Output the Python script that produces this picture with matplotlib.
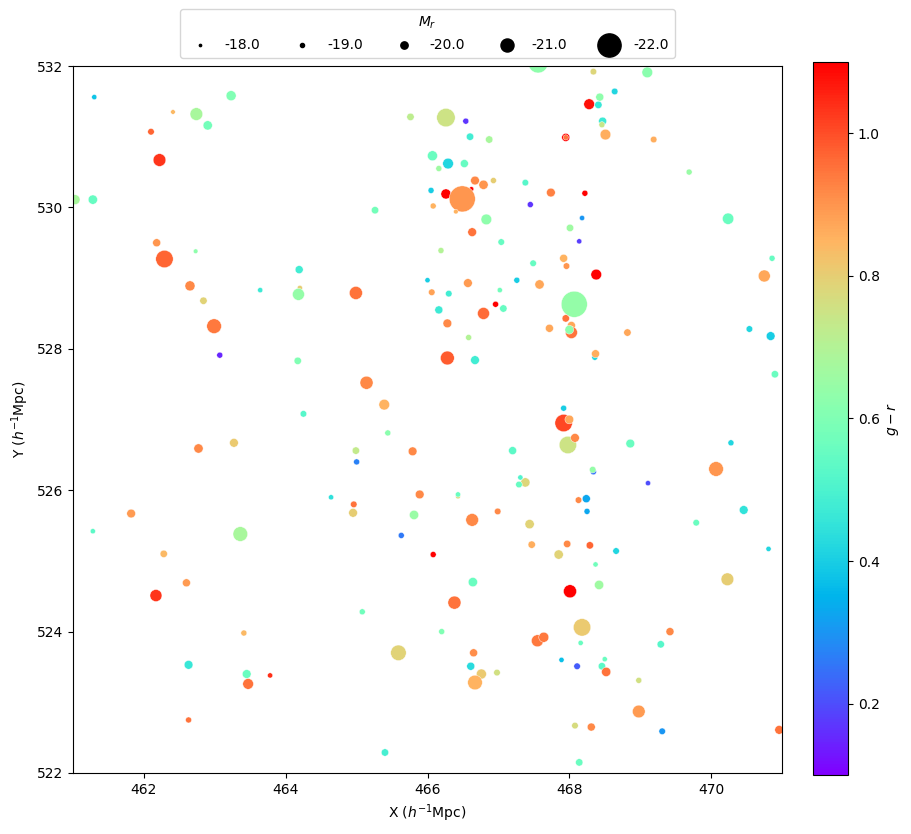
import matplotlib
matplotlib.use('Agg')
import matplotlib.pyplot as plt
import numpy as np

# galaxy positions (h^-1 Mpc), colour g-r and absolute magnitude M_r
x_pos = [
    461.30, 462.41, 462.74, 463.23, 462.90, 462.10, 462.22, 461.03, 461.28, 462.18, 462.29, 462.73, 462.65, 462.84, 463.64, 464.19, 464.20, 464.18,
    467.56, 465.76, 466.26, 466.54, 466.60, 466.87, 466.07, 466.29, 466.52, 466.16, 466.67, 466.79, 466.93, 466.05, 466.26, 466.62, 466.49, 466.08, 466.40, 466.83, 465.26, 467.38, 467.45, 467.74, 466.63, 467.04, 466.19, 467.49, 466.00, 466.57, 467.26, 467.58, 464.99, 466.06, 466.30, 467.02, 466.96,
    468.34, 469.10, 468.64, 468.43, 468.28, 468.41, 468.47, 468.46, 468.51, 467.95, 467.95, 469.19, 469.69, 468.22, 468.18, 468.01, 468.14, 470.24, 470.86, 467.92, 467.96, 468.38, 470.75, 468.07,
    462.99, 463.07, 464.17, 464.25, 463.27, 462.77, 461.82, 461.28, 463.36,
    466.16, 466.79, 467.07, 466.28, 467.72, 466.58, 466.28, 466.67, 465.14, 465.39, 465.44, 464.99, 465.00, 465.79, 467.20, 467.38, 467.31, 467.29, 464.64, 464.96, 464.95, 465.89, 466.43, 466.43, 465.81, 466.63, 466.99, 467.44, 465.63,
    467.95, 468.03, 468.03, 468.00, 468.82, 468.36, 468.37, 470.54, 470.84, 470.90, 467.92, 467.92, 468.00, 467.98, 468.08, 468.86, 470.28, 470.07, 469.11, 468.34, 468.33, 468.24, 468.13, 468.25, 470.46, 469.79,
    462.28, 462.60, 462.17, 463.41, 462.63, 463.45, 463.47, 463.78, 462.63,
    466.08, 467.47, 466.64, 466.38, 465.08, 466.20, 465.59, 466.65, 467.55, 467.64, 466.61, 466.76, 466.67, 466.98, 465.40,
    467.97, 467.85, 468.29, 468.66, 470.81, 468.37, 468.42, 468.01, 470.23, 468.18, 469.42, 469.29, 468.16, 467.89, 468.11, 468.50, 468.46, 468.52, 468.98, 468.98, 468.08, 468.31, 469.31, 470.96, 468.14,
]
y_pos = [
    531.56, 531.35, 531.32, 531.58, 531.16, 531.07, 530.67, 530.11, 530.11, 529.50, 529.27, 529.38, 528.89, 528.68, 528.83, 529.12, 528.86, 528.77,
    532.04, 531.28, 531.27, 531.22, 531.00, 530.96, 530.73, 530.62, 530.62, 530.55, 530.38, 530.32, 530.38, 530.24, 530.19, 530.26, 530.12, 530.02, 529.94, 529.83, 529.96, 530.35, 530.04, 530.21, 529.65, 529.51, 529.39, 529.21, 528.97, 528.93, 528.97, 528.91, 528.79, 528.80, 528.78, 528.83, 528.63,
    531.92, 531.91, 531.64, 531.56, 531.46, 531.45, 531.22, 531.17, 531.03, 530.99, 530.99, 530.96, 530.50, 530.20, 529.85, 529.71, 529.52, 529.84, 529.28, 529.28, 529.17, 529.05, 529.03, 528.63,
    528.32, 527.91, 527.83, 527.08, 526.67, 526.59, 525.67, 525.42, 525.38,
    528.55, 528.50, 528.57, 528.36, 528.29, 528.16, 527.87, 527.84, 527.52, 527.21, 526.81, 526.56, 526.40, 526.55, 526.56, 526.11, 526.18, 526.08, 525.90, 525.80, 525.68, 525.94, 525.91, 525.94, 525.65, 525.58, 525.70, 525.52, 525.36,
    528.43, 528.33, 528.23, 528.27, 528.23, 527.88, 527.93, 528.28, 528.18, 527.64, 527.16, 526.95, 527.00, 526.64, 526.74, 526.66, 526.67, 526.30, 526.10, 526.26, 526.29, 525.88, 525.86, 525.70, 525.72, 525.54,
    525.10, 524.69, 524.51, 523.98, 523.53, 523.40, 523.26, 523.38, 522.75,
    525.09, 525.23, 524.70, 524.41, 524.28, 524.00, 523.70, 523.70, 523.87, 523.92, 523.51, 523.40, 523.28, 523.42, 522.29,
    525.24, 525.09, 525.22, 525.14, 525.17, 524.95, 524.66, 524.57, 524.74, 524.06, 524.00, 523.82, 523.84, 523.60, 523.51, 523.61, 523.51, 523.43, 523.31, 522.87, 522.67, 522.65, 522.59, 522.61, 522.15,
]
g_r = [
    0.38, 0.84, 0.68, 0.60, 0.58, 0.97, 1.03, 0.68, 0.55, 0.90, 0.97, 0.63, 0.92, 0.79, 0.47, 0.48, 0.80, 0.64,
    0.63, 0.72, 0.75, 0.17, 0.48, 0.68, 0.56, 0.42, 0.55, 0.66, 0.92, 0.90, 0.80, 0.40, 1.10, 1.10, 0.90, 0.85, 0.85, 0.63, 0.58, 0.52, 0.17, 0.93, 0.95, 0.55, 0.70, 0.55, 0.40, 0.89, 0.40, 0.87, 0.95, 0.88, 0.48, 0.57, 1.10,
    0.78, 0.62, 0.42, 0.63, 1.08, 0.46, 0.47, 0.74, 0.86, 1.10, 0.95, 0.86, 0.65, 1.10, 0.30, 0.66, 0.18, 0.56, 0.55, 0.85, 0.90, 1.10, 0.87, 0.64,
    0.94, 0.15, 0.60, 0.52, 0.81, 0.92, 0.89, 0.53, 0.68,
    0.47, 0.96, 0.55, 0.92, 0.87, 0.70, 0.98, 0.48, 0.92, 0.85, 0.62, 0.73, 0.27, 0.92, 0.53, 0.78, 0.51, 0.55, 0.44, 0.95, 0.80, 0.92, 0.77, 0.56, 0.65, 0.92, 0.92, 0.79, 0.26,
    0.95, 0.87, 0.95, 0.63, 0.87, 0.42, 0.86, 0.42, 0.40, 0.56, 0.40, 1.01, 0.87, 0.75, 0.92, 0.56, 0.42, 0.90, 0.20, 0.25, 0.64, 0.33, 0.92, 0.33, 0.45, 0.56,
    0.84, 0.89, 1.03, 0.84, 0.46, 0.56, 0.95, 1.04, 0.95,
    1.10, 0.86, 0.56, 0.95, 0.57, 0.60, 0.79, 0.91, 0.94, 0.94, 0.43, 0.81, 0.85, 0.76, 0.49,
    0.92, 0.79, 0.97, 0.42, 0.42, 0.57, 0.66, 1.10, 0.80, 0.81, 0.92, 0.52, 0.56, 0.37, 0.22, 0.56, 0.53, 0.95, 0.76, 0.89, 0.77, 0.92, 0.30, 0.95, 0.56,
]
m_r = [
    -19.4, -19.2, -20.95, -20.54, -20.4, -19.8, -20.95, -20.5, -20.4, -20.15, -21.5, -19.2, -20.54, -20.0, -19.4, -20.15, -19.4, -20.85,
    -21.7, -20.0, -21.6, -19.65, -20.0, -20.0, -20.54, -20.65, -20.15, -19.65, -20.3, -20.4, -19.65, -19.65, -20.54, -19.2, -22.2, -19.65, -19.2, -20.65, -20.0, -19.8, -19.65, -20.3, -20.3, -19.8, -19.65, -19.8, -19.4, -20.3, -19.65, -20.4, -21.0, -19.8, -19.8, -19.4, -19.65,
    -19.8, -20.65, -19.8, -20.15, -20.65, -20.0, -20.15, -19.65, -20.65, -20.15, -19.4, -19.8, -19.65, -19.65, -19.4, -20.0, -19.4, -20.75, -19.65, -20.15, -19.8, -20.65, -20.85, -22.2,
    -21.2, -19.65, -20.0, -19.8, -20.3, -20.4, -20.3, -19.4, -21.2,
    -20.15, -20.85, -20.0, -20.3, -20.15, -19.65, -21.1, -20.3, -21.0, -20.65, -19.65, -20.0, -19.65, -20.3, -20.15, -20.4, -19.4, -19.8, -19.4, -19.8, -20.3, -20.3, -19.2, -19.4, -20.4, -20.95, -19.8, -20.4, -19.65,
    -20.0, -20.15, -20.85, -20.3, -20.0, -19.65, -20.15, -19.8, -20.3, -20.0, -19.65, -21.5, -20.3, -21.5, -20.3, -20.3, -19.65, -21.2, -19.4, -19.65, -19.8, -20.15, -19.8, -19.65, -20.3, -19.8,
    -20.0, -20.15, -20.85, -19.65, -20.3, -20.3, -20.65, -19.4, -19.65,
    -19.65, -20.0, -20.4, -21.0, -19.65, -19.65, -21.3, -20.15, -20.85, -20.54, -20.15, -20.54, -21.2, -19.8, -20.0,
    -20.0, -20.4, -20.0, -19.8, -19.4, -19.4, -20.4, -21.0, -20.95, -21.5, -20.15, -20.0, -19.4, -19.4, -19.8, -19.4, -20.0, -20.4, -19.65, -20.95, -19.8, -20.15, -19.8, -20.3, -20.0,
]
legend_mags = [-18.0, -19.0, -20.0, -21.0, -22.0]


def mag_to_size(m):
    # marker area grows with luminosity
    return 28 * 10 ** (-0.5 * (np.asarray(m) + 20))


fig = plt.figure(figsize=(9.11, 8.34), dpi=100)
ax = fig.add_axes([73 / 911, 1 - 773 / 834, 709 / 911, 707 / 834])
cax = fig.add_axes([813 / 911, 1 - 775 / 834, 35 / 911, 713 / 834])

sc = ax.scatter(x_pos, y_pos, s=mag_to_size(m_r), c=g_r, cmap='rainbow',
                vmin=0.1, vmax=1.1, edgecolors='white', linewidths=0.3)
ax.set_xlim(461, 471)
ax.set_ylim(522, 532)
ax.set_xlabel('X ($h^{-1}$Mpc)')
ax.set_ylabel('Y ($h^{-1}$Mpc)')

cb = fig.colorbar(sc, cax=cax)
cb.set_label('$g-r$')

handles = [ax.scatter([], [], s=mag_to_size(m), c='k') for m in legend_mags]
labels = [f'{m:.1f}' for m in legend_mags]
ax.legend(handles, labels, title='$M_r$', ncol=5, loc='lower center',
          bbox_to_anchor=(0.5, 1.002), scatterpoints=1, columnspacing=2.0)

plt.savefig('out.png', dpi=100)
